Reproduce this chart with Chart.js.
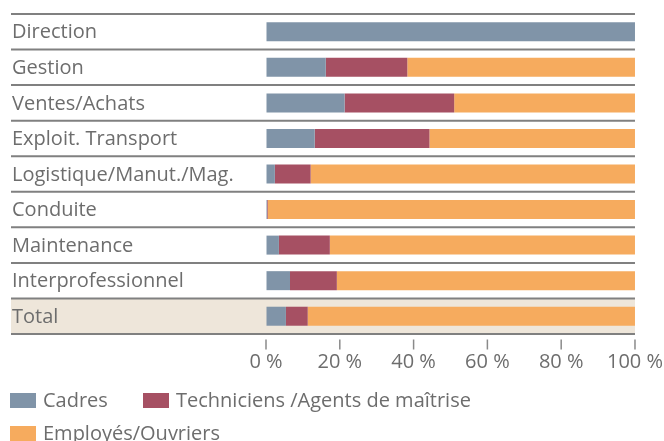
<!DOCTYPE html>
<html>
<head>
<meta charset="utf-8">
<script src="https://cdn.jsdelivr.net/npm/chart.js@4"></script>
<style>
  body { margin: 0; background: #fff; }
  #wrap { position: relative; width: 664px; height: 441px; overflow: hidden; }
  #chart { position: absolute; left: 0; top: 0; }
  .leg { position: absolute; font: 20px "Open Sans", sans-serif; line-height: 20px; color: #6d6d6d; white-space: nowrap; }
  .box { position: absolute; width: 26px; height: 15px; }
</style>
</head>
<body>
<div id="wrap">
  <canvas id="chart" width="664" height="441"></canvas>
  <div id="legend"></div>
</div>
<script>
const categories = ['Direction', 'Gestion', 'Ventes/Achats', 'Exploit. Transport', 'Logistique/Manut./Mag.',
  'Conduite', 'Maintenance', 'Interprofessionnel', 'Total'];
const cadres = [100, 16.2, 21.3, 13.2, 2.4, 0.3, 3.5, 6.5, 5.4];
const techniciens = [0, 22.1, 29.7, 31.1, 9.7, 0.2, 13.8, 12.7, 5.9];
const employes = [0, 61.7, 49.0, 55.7, 87.9, 99.5, 82.7, 80.8, 88.7];
const seriesNames = ['Cadres', 'Techniciens /Agents de maîtrise', 'Employés/Ouvriers'];
const seriesColors = ['#8094a8', '#a65063', '#f6ab5e'];
const xTicks = [0, 20, 40, 60, 80, 100];

const textColor = '#6d6d6d';
const fontFamily = '"Open Sans", sans-serif';

// separators, Total row background and detached tick marks
const rowsPlugin = {
  id: 'rows',
  beforeDraw(chart) {
    const { ctx, chartArea } = chart;
    const rowH = (chartArea.bottom - chartArea.top) / categories.length;
    ctx.save();
    ctx.fillStyle = '#eee6da';
    ctx.fillRect(11, chartArea.bottom - rowH, chartArea.right - 11, rowH);
    ctx.restore();
  },
  afterDraw(chart) {
    const { ctx, chartArea, scales } = chart;
    const rowH = (chartArea.bottom - chartArea.top) / categories.length;
    ctx.save();
    ctx.strokeStyle = '#808080';
    ctx.lineWidth = 2;
    for (let i = 0; i <= categories.length; i++) {
      const y = chartArea.top + i * rowH;
      ctx.beginPath();
      ctx.moveTo(11, y);
      ctx.lineTo(chartArea.right, y);
      ctx.stroke();
    }
    ctx.strokeStyle = '#8a8a8a';
    ctx.lineWidth = 1.5;
    xTicks.forEach((v) => {
      const x = scales.x.getPixelForValue(v);
      ctx.beginPath();
      ctx.moveTo(x, chartArea.bottom + 5.5);
      ctx.lineTo(x, chartArea.bottom + 15.5);
      ctx.stroke();
    });
    ctx.restore();
  }
};

new Chart(document.getElementById('chart'), {
  type: 'bar',
  data: {
    labels: categories,
    datasets: [
      { label: seriesNames[0], data: cadres, backgroundColor: seriesColors[0] },
      { label: seriesNames[1], data: techniciens, backgroundColor: seriesColors[1] },
      { label: seriesNames[2], data: employes, backgroundColor: seriesColors[2] }
    ]
  },
  options: {
    indexAxis: 'y',
    responsive: false,
    animation: false,
    barThickness: 19,
    inflateAmount: 0,
    layout: { padding: { left: 12, right: 27.5, top: 14, bottom: 67 } },
    plugins: {
      legend: { display: false },
      tooltip: { enabled: false }
    },
    scales: {
      x: {
        stacked: true,
        min: 0,
        max: 100,
        border: { display: false },
        grid: { drawOnChartArea: false, drawTicks: true, tickLength: 15, color: 'transparent' },
        ticks: {
          stepSize: 20,
          padding: 1,
          color: textColor,
          font: { family: fontFamily, size: 20 },
          callback: (v) => v + ' %'
        },
        afterFit: (scale) => { scale.height = 40; }
      },
      y: {
        stacked: true,
        border: { display: false },
        grid: { display: false },
        ticks: {
          autoSkip: false,
          crossAlign: 'far',
          padding: 0,
          labelOffset: 1,
          color: textColor,
          font: { family: fontFamily, size: 20 }
        },
        afterFit: (scale) => { scale.width = 254; }
      }
    }
  },
  plugins: [rowsPlugin]
});

// legend, left aligned and wrapping like the reference
const legendItems = [
  { name: seriesNames[0], color: seriesColors[0], x: 10, y: 393 },
  { name: seriesNames[1], color: seriesColors[1], x: 143, y: 393 },
  { name: seriesNames[2], color: seriesColors[2], x: 10, y: 426 }
];
const legendEl = document.getElementById('legend');
legendItems.forEach((item) => {
  const box = document.createElement('div');
  box.className = 'box';
  box.style.left = item.x + 'px';
  box.style.top = item.y + 'px';
  box.style.background = item.color;
  legendEl.appendChild(box);
  const label = document.createElement('div');
  label.className = 'leg';
  label.style.left = (item.x + 33) + 'px';
  label.style.top = (item.y - 3) + 'px';
  label.textContent = item.name;
  legendEl.appendChild(label);
});
</script>
</body>
</html>
